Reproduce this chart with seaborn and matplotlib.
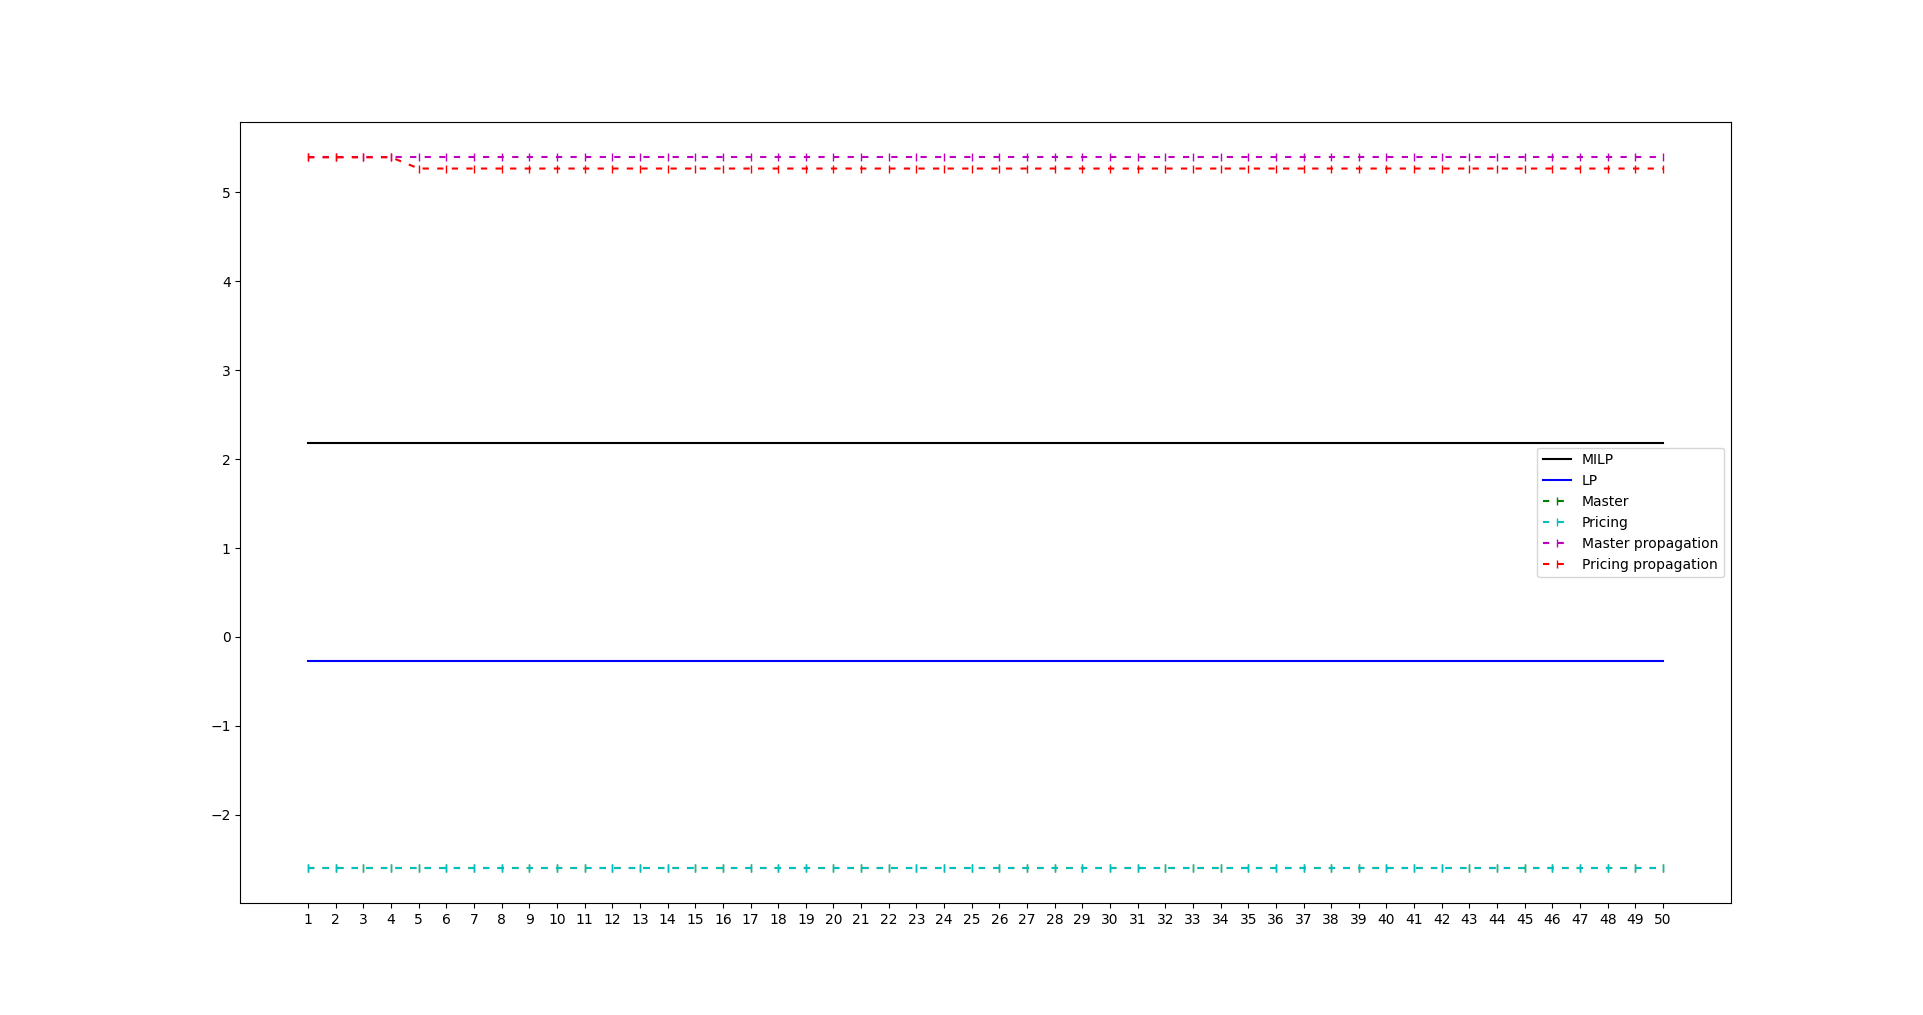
import numpy as np
import pandas as pd
import matplotlib
matplotlib.use('Agg')
import matplotlib.pyplot as plt
import seaborn as sns

# === DATA ===
iterations = list(range(1, 51))
milp = [2.183] * 50
lp = [-0.274] * 50
master = [-2.595] * 50
pricing = [-2.595] * 50
master_prop = [5.392] * 50
pricing_prop = [5.392] * 4 + [5.266] * 46

dashed = (0, (3, 4))
series = [
    ("MILP", milp, "k", "-", None),
    ("LP", lp, "b", "-", None),
    ("Master", master, "g", dashed, "|"),
    ("Pricing", pricing, "c", dashed, "|"),
    ("Master propagation", master_prop, "m", dashed, "|"),
    ("Pricing propagation", pricing_prop, "r", dashed, "|"),
]

# === PLOT ===
fig, ax = plt.subplots(figsize=(19.23, 10.15), dpi=100)

for name, vals, col, ls, mk in series:
    df = pd.DataFrame({"iter": iterations, "value": vals})
    sns.lineplot(data=df, x="iter", y="value", ax=ax, color=col,
                 linestyle=ls, marker=mk, markersize=6,
                 markeredgecolor=col, markeredgewidth=1.0, label=name)

ax.set_xticks(iterations)
ax.set_xlabel("")
ax.set_ylabel("")
ax.legend(loc="center right")

plt.savefig("out.png", dpi=100)
